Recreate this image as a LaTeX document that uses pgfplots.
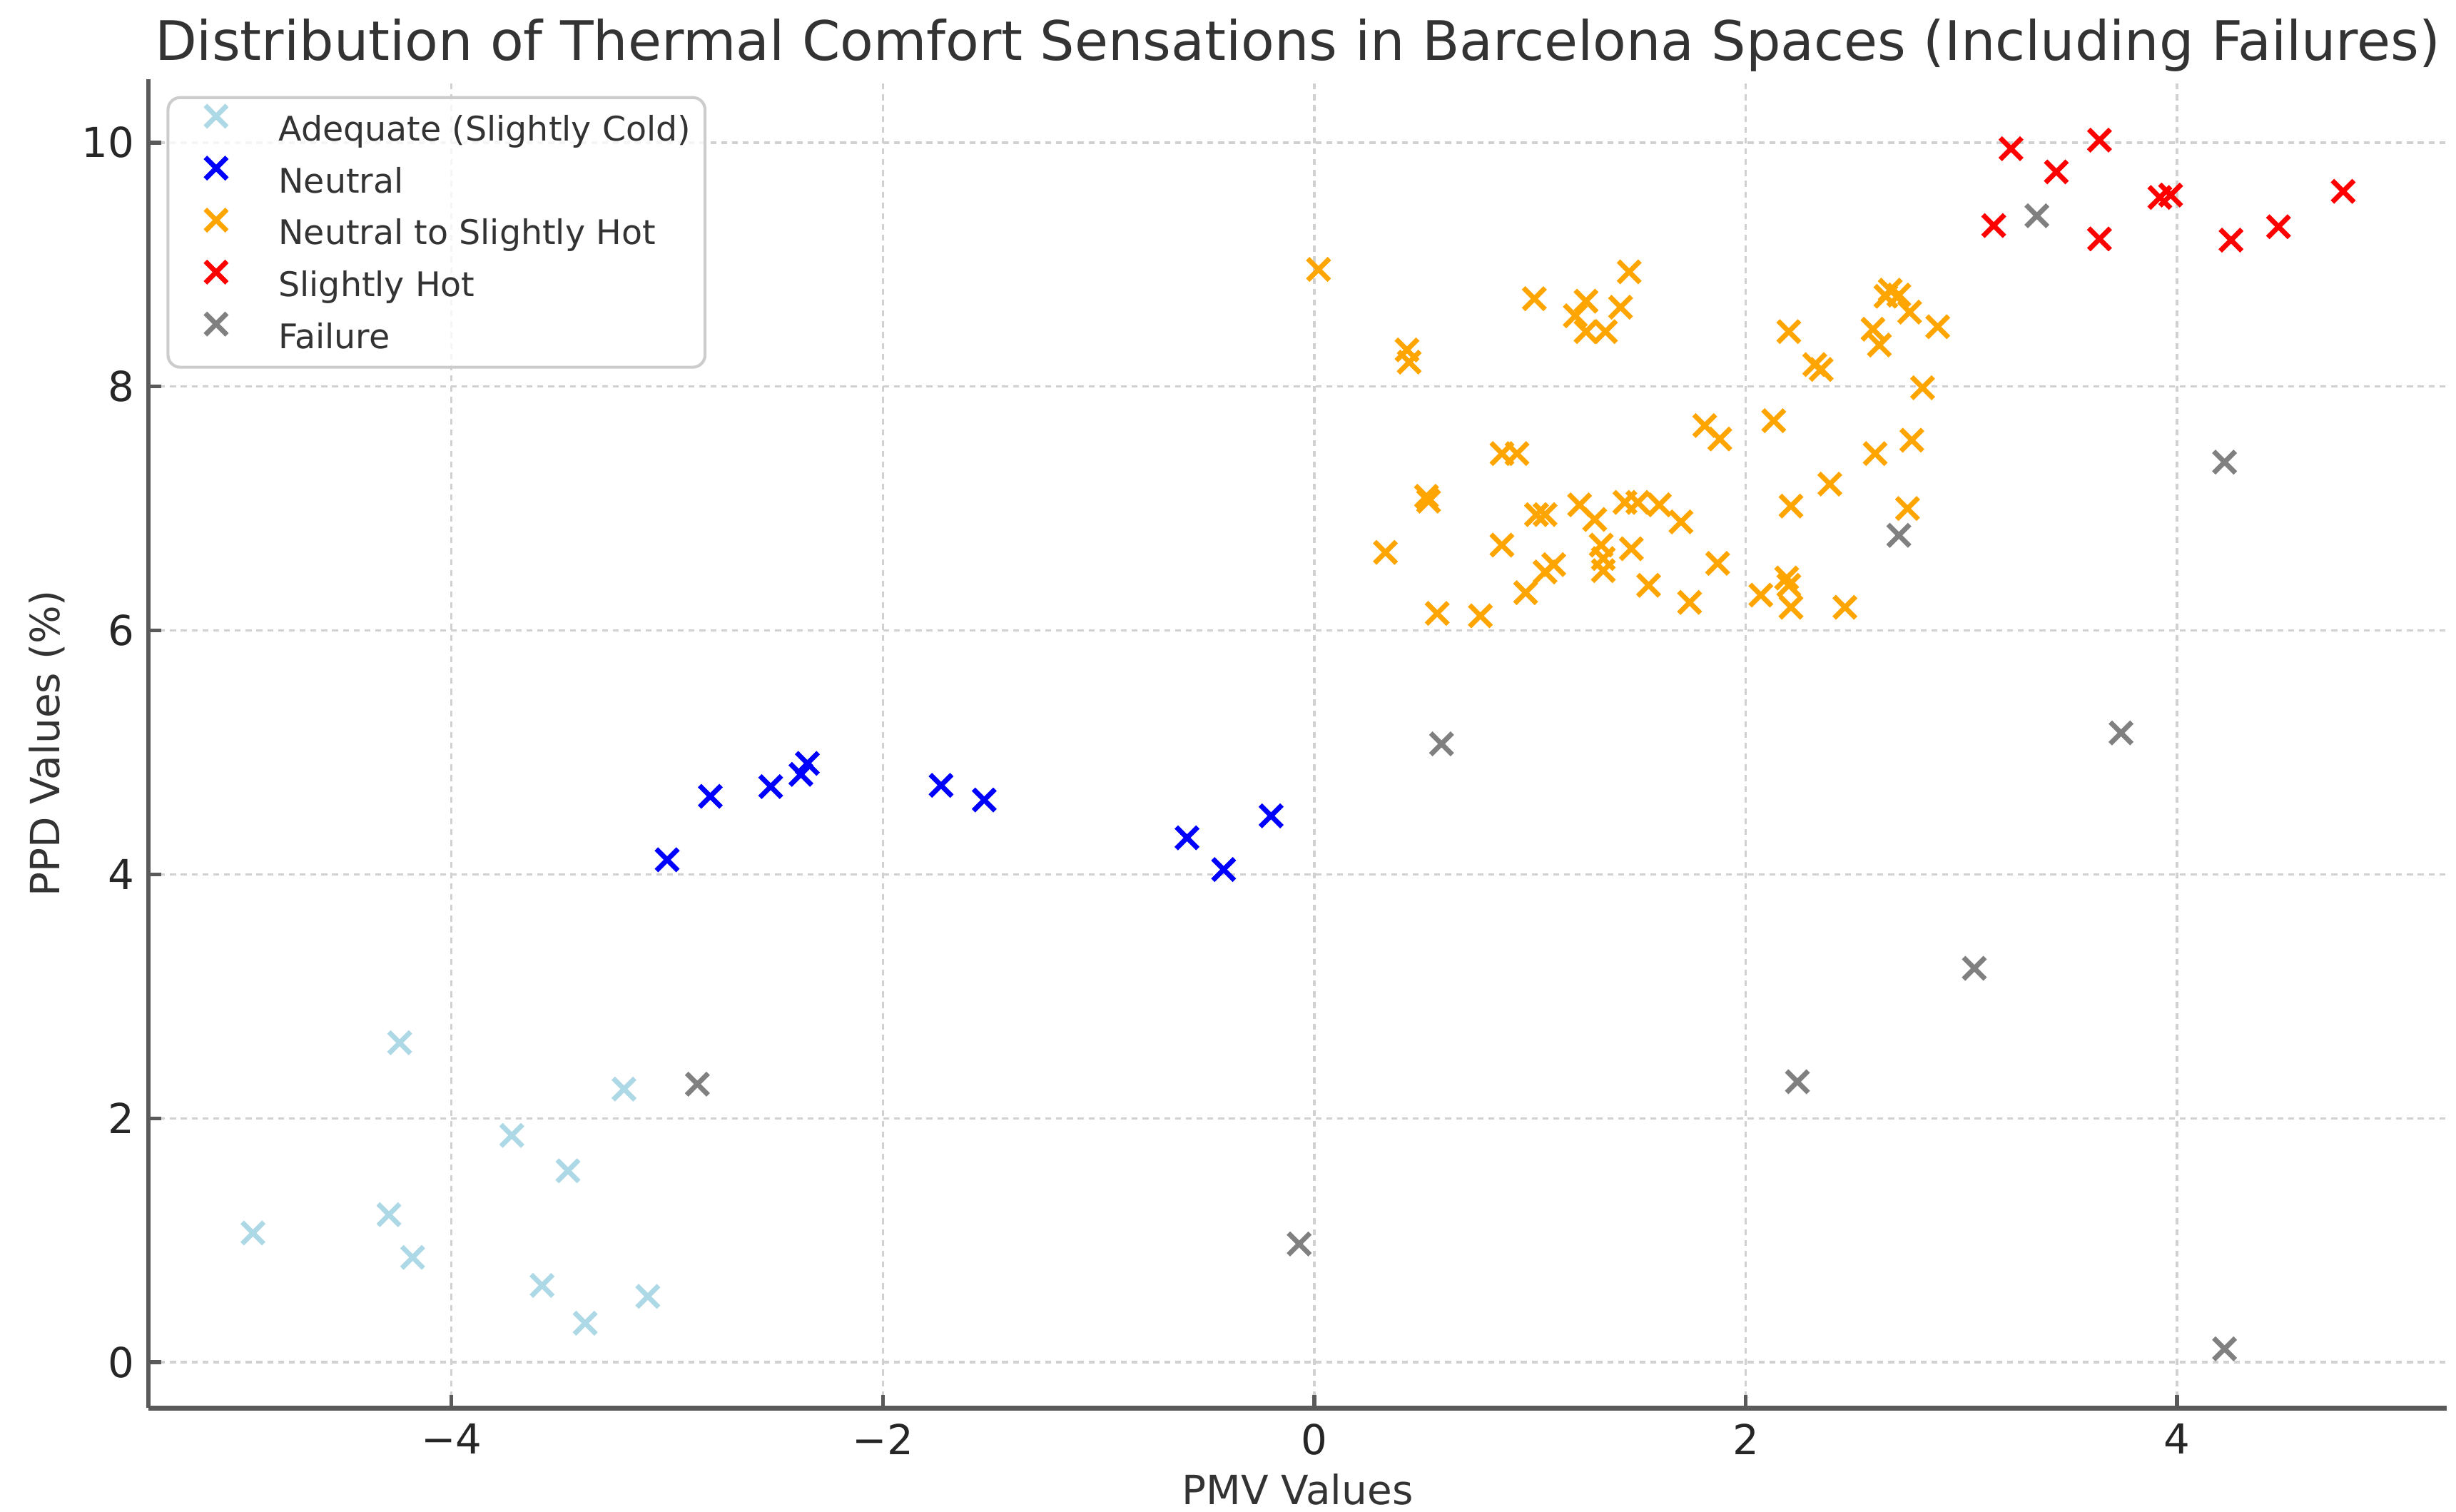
\documentclass[border=0pt]{standalone}
\usepackage{fontspec}
\setmainfont{DejaVu Sans}
\usepackage{pgfplots}
\pgfplotsset{compat=1.18}

\definecolor{cAdequate}{HTML}{ADD8E6}
\definecolor{cNeutral}{HTML}{0000FF}
\definecolor{cWarm}{HTML}{FFA500}
\definecolor{cHot}{HTML}{FF0000}
\definecolor{cFail}{HTML}{808080}
\definecolor{spine}{HTML}{5A5A5A}

\begin{document}
\begin{tikzpicture}
\begin{axis}[
  scale only axis,
  width=467.9pt, height=270.5pt,
  xmin=-5.405, xmax=5.25, ymin=-0.374, ymax=10.52,
  axis x line*=bottom, axis y line*=left,
  axis line style={spine, line width=1pt, -},
  xtick={-4,-2,0,2,4}, xticklabels={−4,−2,0,2,4},
  ytick={0,2,4,6,8,10}, yticklabels={0,2,4,6,8,10},
  tick align=inside, major tick length=2.6pt,
  tick style={spine, line width=0.8pt},
  tick label style={font=\fontsize{8.4}{10}\selectfont, text=black!85, inner sep=0pt},
  xticklabel style={anchor=north, yshift=-3.05pt},
  yticklabel style={anchor=east, xshift=-2.7pt},
  grid=major,
  major grid style={black!18, line width=0.5pt, dash pattern=on 1.2pt off 1pt},
  title={Distribution of Thermal Comfort Sensations in Barcelona Spaces (Including Failures)},
  every axis title/.style={at={(axis description cs:0.5,1)}, anchor=base, yshift=3.9pt,
    font=\fontsize{11.1}{13}\selectfont, text=black!80, inner sep=0pt},
  xlabel={PMV Values},
  ylabel={PPD Values (\%)},
  xlabel style={at={([yshift=-19.7pt]axis description cs:0.5,0)}, anchor=base,
    font=\fontsize{8.2}{10}\selectfont, text=black!80, inner sep=0pt},
  ylabel style={at={([xshift=-20.6pt]axis description cs:0,0.5)}, anchor=center,
    font=\fontsize{8.2}{10}\selectfont, text=black!80, inner sep=0pt},
  legend cell align=left,
  legend style={at={(axis description cs:0,1)}, anchor=north west,
    xshift=3.69pt, yshift=-3.44pt,
    draw=black!20, line width=0.6pt, rounded corners=2.5pt,
    fill=white, fill opacity=0.8, text opacity=1,
    font=\fontsize{6.9}{8}\selectfont, text=black!80,
    inner xsep=2.9pt, inner ysep=1pt, row sep=0pt, column sep=0pt,
    nodes={inner sep=0pt, text height=7.78pt, text depth=2.78pt}},
  legend image code/.code={%
    \path (0pt,0pt) (19pt,5pt);
    \draw[#1] plot coordinates {(6.6pt,2.5pt)};},
  every axis plot/.append style={only marks, mark=x, mark size=3.1pt,
    mark options={line width=1pt}},
]

% Adequate (Slightly Cold)
\addplot[cAdequate] coordinates {
  (-4.92,1.06) (-4.24,2.62) (-4.29,1.21) (-4.18,0.86) (-3.72,1.86)
  (-3.46,1.57) (-3.20,2.24) (-3.58,0.63) (-3.38,0.32) (-3.09,0.54)
};
\addlegendentry{Adequate (Slightly Cold)}

% Neutral
\addplot[cNeutral] coordinates {
  (-3.00,4.12) (-2.80,4.64) (-2.52,4.72) (-2.38,4.82) (-2.35,4.91)
  (-1.73,4.73) (-1.53,4.61) (-0.59,4.30) (-0.42,4.04) (-0.20,4.48)
};
\addlegendentry{Neutral}

% Neutral to Slightly Hot
\addplot[cWarm] coordinates {
  (0.02,8.96) (0.43,8.30) (0.44,8.20) (1.02,8.72) (1.21,8.58)
  (1.26,8.70) (1.26,8.45) (1.35,8.45) (1.42,8.65) (1.46,8.94)
  (2.20,8.45) (2.59,8.47) (2.62,8.34) (2.65,8.74) (2.67,8.79)
  (2.71,8.75) (2.76,8.61) (2.89,8.49) (2.32,8.18) (2.35,8.14)
  (2.82,7.99) (1.81,7.68) (1.88,7.57) (2.13,7.72) (2.60,7.45)
  (2.77,7.56) (2.39,7.20) (2.21,7.02) (2.75,7.00) (0.87,7.45)
  (0.94,7.45) (0.52,7.10) (0.53,7.06) (1.03,6.95) (1.07,6.95)
  (1.23,7.03) (1.30,6.91) (1.44,7.05) (1.50,7.05) (1.60,7.03)
  (1.70,6.89) (0.33,6.64) (0.87,6.70) (1.33,6.70) (1.34,6.59)
  (1.47,6.67) (1.11,6.54) (1.07,6.48) (1.34,6.49) (0.98,6.31)
  (1.55,6.37) (1.87,6.55) (1.74,6.23) (0.57,6.14) (0.77,6.12)
  (2.07,6.29) (2.19,6.43) (2.20,6.37) (2.21,6.19) (2.46,6.19)
};
\addlegendentry{Neutral to Slightly Hot}

% Slightly Hot
\addplot[cHot] coordinates {
  (3.23,9.95) (3.64,10.02) (3.44,9.76) (3.15,9.32) (3.64,9.21)
  (3.92,9.55) (3.97,9.57) (4.25,9.20) (4.47,9.31) (4.77,9.60)
};
\addlegendentry{Slightly Hot}

% Failure
\addplot[cFail] coordinates {
  (-2.86,2.28) (-0.07,0.97) (0.59,5.07) (2.24,2.30) (2.71,6.78)
  (3.06,3.23) (3.35,9.40) (3.74,5.16) (4.22,7.38) (4.22,0.11)
};
\addlegendentry{Failure}

\end{axis}
\pgfresetboundingbox
\path[use as bounding box]
  ([shift={(-30.21pt,-21.06pt)}]current axis.south west)
  rectangle ([shift={(1.89pt,16.12pt)}]current axis.north east);
\end{tikzpicture}
\end{document}
